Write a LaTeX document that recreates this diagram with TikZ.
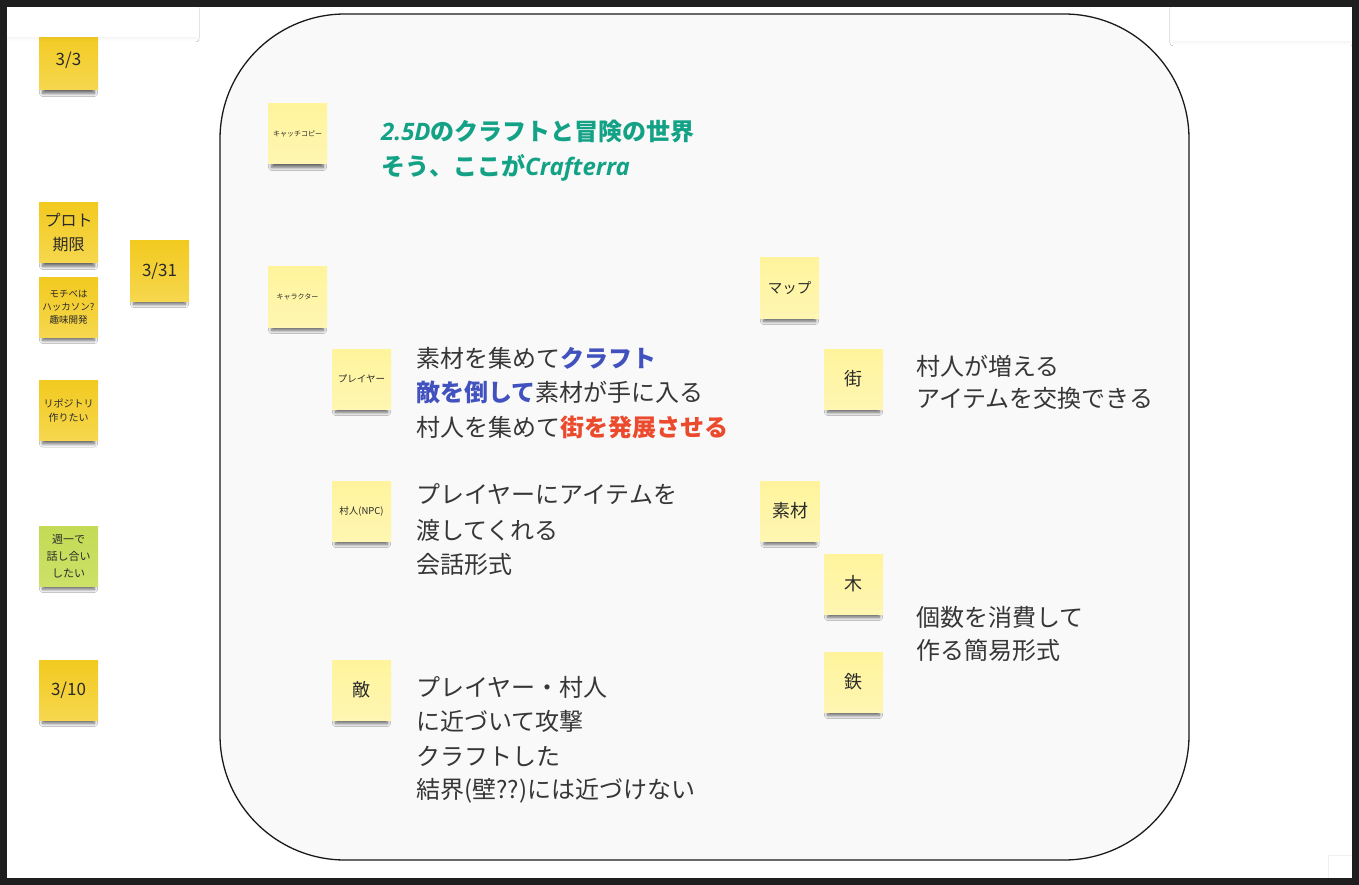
\documentclass[tikz,border=0pt]{standalone}
\usepackage{fontspec}
\setmainfont{Noto Sans CJK JP}
\newfontfamily\latinbi{Open Sans}
\usetikzlibrary{shadows.blur}

\definecolor{frameink}{HTML}{1E1E1E}
\definecolor{boardfill}{HTML}{F9F9F9}
\definecolor{boardline}{HTML}{1A1A1A}
\definecolor{ink}{HTML}{363636}
\definecolor{noteink}{HTML}{2A2A2A}
\definecolor{yelTop}{HTML}{F2CA20}
\definecolor{yelBot}{HTML}{F6D74E}
\definecolor{paleTop}{HTML}{FFF49C}
\definecolor{paleBot}{HTML}{FEF6B2}
\definecolor{grnTop}{HTML}{C3DB55}
\definecolor{grnBot}{HTML}{CCE168}
\definecolor{teal}{HTML}{13A286}
\definecolor{accentblue}{HTML}{4152BE}
\definecolor{accentred}{HTML}{EB4A2C}

\begin{document}
\begin{tikzpicture}[x=1pt,y=-1pt,
  note/.style={rectangle, inner sep=0pt, minimum width=59pt, minimum height=60pt,
    align=center, text=noteink,
    blur shadow={shadow xshift=0pt, shadow yshift=-8pt, shadow scale=0.88,
      shadow blur radius=3.5pt, shadow blur steps=8, shadow opacity=60}},
  yellownote/.style={note, top color=yelTop, bottom color=yelBot},
  palenote/.style={note, top color=paleTop, bottom color=paleBot},
  greennote/.style={note, top color=grnTop, bottom color=grnBot},
  fs/.style 2 args={font=\fontsize{#1}{#2}\selectfont},
  line/.style={anchor=base west, inner sep=0pt, text=ink,
    font=\fontsize{24}{30}\selectfont},
  panel/.style={fill=white, draw=none,
    blur shadow={shadow xshift=0pt, shadow yshift=-2pt, shadow scale=0.99,
      shadow blur radius=3pt, shadow opacity=5}},
]
\useasboundingbox (0,0) rectangle (1359,885);
\fill[white] (0,0) rectangle (1359,885);

% rounded board
\draw[line width=1.3pt, draw=boardline, fill=boardfill, rounded corners=125pt]
  (220,14) rectangle (1189,860);

% side notes
\node[yellownote, fs={17}{20}] (d33) at (68.5,60) {3/3};
\node[yellownote, fs={16}{24}] (plot) at (68.5,233) {プロト\\期限};
\node[yellownote, fs={9.5}{13}] (motive) at (68.5,307) {モチベは\\ハッカソン?\\趣味開発};
\node[yellownote, fs={17}{20}] (d331) at (159.5,271) {3/31};
\node[yellownote, fs={10}{14}] (repo) at (68.5,410.5) {リポジトリ\\作りたい};
\node[greennote, fs={11}{17}] (weekly) at (68.5,556) {週一で\\話し合い\\したい};
\node[yellownote, fs={17}{20}] (d310) at (68.5,690) {3/10};

% notes on the board
\node[palenote, fs={7}{9}] (catch) at (297.5,134) {キャッチコピー};
\node[palenote, fs={7}{9}] (chara) at (297.5,297) {キャラクター};
\node[palenote, fs={9.5}{12}] (player) at (361.5,379) {プレイヤー};
\node[palenote, fs={9.5}{12}] (npc) at (361.5,511) {村人(NPC)};
\node[palenote, fs={18}{22}] (enemy) at (361.5,690) {敵};
\node[palenote, fs={14.5}{18}] (map) at (789.5,288) {マップ};
\node[palenote, fs={18}{22}] (town) at (853.5,379) {街};
\node[palenote, fs={18}{22}] (mat) at (790,511) {素材};
\node[palenote, fs={18}{22}] (wood) at (853.5,584) {木};
\node[palenote, fs={18}{22}] (iron) at (853.5,682) {鉄};

% catch copy
\node[line, text=teal] (copy1) at (381,141)
  {{\latinbi\bfseries\itshape 2.5D}{\bfseries のクラフトと冒険の世界}};
\node[line, text=teal] (copy2) at (381,176)
  {{\bfseries そう、ここが}{\latinbi\bfseries\itshape Crafterra}};

% player
\node[line] (pl1) at (416,367) {素材を集めて{\bfseries\color{accentblue}クラフト}};
\node[line] (pl2) at (416,401) {{\bfseries\color{accentblue}敵を倒して}素材が手に入る};
\node[line] (pl3) at (416,436) {村人を集めて{\bfseries\color{accentred}街を発展させる}};

% villager
\node[line] (np1) at (416,503) {プレイヤーにアイテムを};
\node[line] (np2) at (416,539) {渡してくれる};
\node[line] (np3) at (416,573) {会話形式};

% enemy
\node[line] (en1) at (416,696) {プレイヤー・村人};
\node[line] (en2) at (416,730) {に近づいて攻撃};
\node[line] (en3) at (416,765) {クラフトした};
\node[line] (en4) at (416,798) {結界(壁??)には近づけない};

% town
\node[line] (tw1) at (916,375) {村人が増える};
\node[line] (tw2) at (916,407) {アイテムを交換できる};

% materials
\node[line] (mt1) at (916,626) {個数を消費して};
\node[line] (mt2) at (916,659) {作る簡易形式};

% white panels along the edges
\path[panel] (6,6) rectangle (197,37);
\path[panel] (1172,6) rectangle (1352,41);
\draw[draw=black!6, fill=white] (1328,855) rectangle (1352,878);

% outer frame
\draw[line width=7pt, draw=frameink] (3.5,3.5) rectangle (1355.5,881.5);
\end{tikzpicture}
\end{document}
